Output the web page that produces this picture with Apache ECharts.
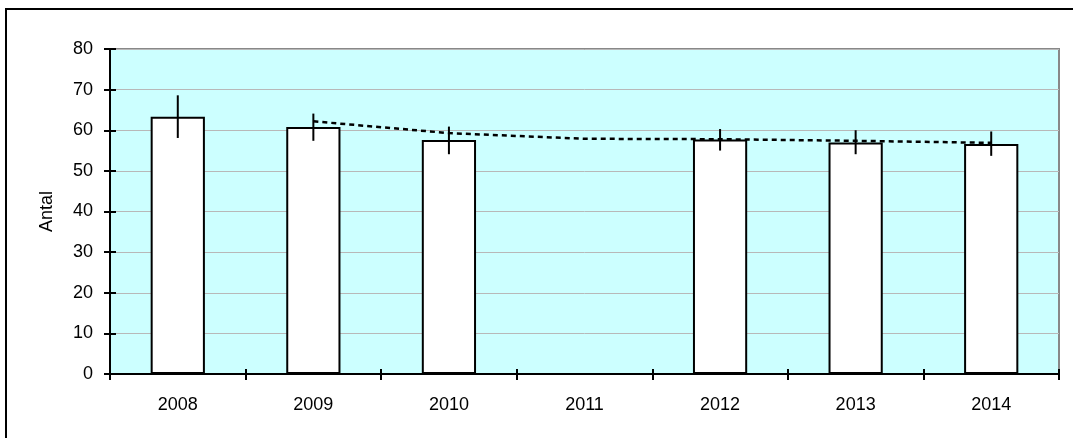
<!DOCTYPE html>
<html>
<head>
<meta charset="utf-8">
<script src="https://cdn.jsdelivr.net/npm/echarts@6/dist/echarts.min.js"></script>
<style>
html,body{margin:0;padding:0;background:#fff;}
#c{width:1073px;height:438px;}
</style>
</head>
<body>
<div id="c"></div>
<script>
const categories = ['2008','2009','2010','2011','2012','2013','2014'];
const barValues = [63.3, 60.8, 57.6, null, 57.7, 57.0, 56.6];
const errLow = [58.1, 57.4, 54.1, null, 55.0, 54.1, 53.7];
const errHigh = [68.6, 64.1, 60.9, null, 60.3, 60.0, 59.7];
const trendValues = [null, 62.2, 59.3, 57.9, 57.8, 57.4, 56.9];
const yTicks = [0, 10, 20, 30, 40, 50, 60, 70, 80];

const FONT = 'Liberation Sans, Arial, sans-serif';
const FS = 18;

const errData = categories.map((c, i) => errLow[i] == null ? null : [i, errLow[i], errHigh[i]]).filter(d => d);

const chart = echarts.init(document.getElementById('c'), null, {renderer: 'canvas'});
chart.setOption({
  animation: false,
  backgroundColor: '#ffffff',
  graphic: [{
    type: 'rect', z: -10,
    shape: {x: 6, y: 9, width: 1100, height: 460},
    style: {fill: 'none', stroke: '#000', lineWidth: 2}
  }],
  grid: {left: 110, right: 14, top: 49, bottom: 64, show: true, backgroundColor: '#CCFFFF', borderColor: '#888888', borderWidth: 2},
  xAxis: [{
    type: 'category', data: categories, position: 'bottom',
    axisLine: {lineStyle: {color: '#000', width: 2}},
    axisTick: {show: true, length: 6, lineStyle: {color: '#000', width: 2}},
    axisLabel: {color: '#000', fontFamily: FONT, fontSize: FS, margin: 22},
    splitLine: {show: false}
  }, {
    type: 'category', data: categories, position: 'bottom',
    axisLine: {show: false},
    axisTick: {show: true, inside: true, length: 5, lineStyle: {color: '#000', width: 2}},
    axisLabel: {show: false}, splitLine: {show: false}
  }],
  yAxis: [{
    type: 'value', min: 0, max: 80, interval: 10,
    name: 'Antal', nameLocation: 'middle', nameGap: 54, nameRotate: 90,
    nameTextStyle: {color: '#000', fontFamily: FONT, fontSize: FS},
    axisLine: {show: true, lineStyle: {color: '#000', width: 2}},
    axisTick: {show: true, length: 6, lineStyle: {color: '#000', width: 2}},
    axisLabel: {color: '#000', fontFamily: FONT, fontSize: FS, margin: 17,
      formatter: v => yTicks.includes(v) ? String(v) : ''},
    splitLine: {show: true, lineStyle: {color: '#B8B8B8', width: 1}}
  }, {
    type: 'value', min: 0, max: 80, interval: 10, position: 'left',
    axisLine: {show: false},
    axisTick: {show: true, inside: true, length: 6, lineStyle: {color: '#000', width: 2}},
    axisLabel: {show: false}, splitLine: {show: false}
  }],
  series: [{
    type: 'bar', data: barValues, barWidth: '40%',
    itemStyle: {color: '#ffffff', borderColor: '#000', borderWidth: 2},
    z: 2
  }, {
    type: 'line', data: trendValues, symbol: 'none', connectNulls: false,
    lineStyle: {color: '#000', width: 2.5, type: [5, 4]},
    z: 3
  }, {
    type: 'custom', data: errData, z: 4,
    renderItem: function (params, api) {
      const x = api.value(0);
      const lo = api.coord([x, api.value(1)]);
      const hi = api.coord([x, api.value(2)]);
      return {type: 'line', shape: {x1: lo[0], y1: lo[1], x2: hi[0], y2: hi[1]},
        style: {stroke: '#000', lineWidth: 2}};
    }
  }]
});
</script>
</body>
</html>
